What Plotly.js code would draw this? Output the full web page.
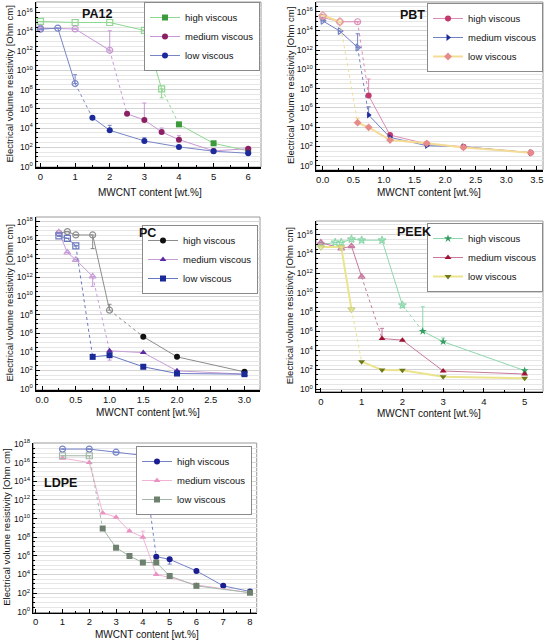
<!DOCTYPE html>
<html><head><meta charset="utf-8">
<script src="https://cdn.plot.ly/plotly-3.0.1.min.js"></script>
<style>html,body{margin:0;padding:0;background:#fff}#chart{width:545px;height:642px}</style>
</head><body><div id="chart"></div>
<script>
// ---------- DATA ----------
const seriesNames = ['high viscous', 'medium viscous', 'low viscous'];
const xTitle = 'MWCNT content [wt.%]';
const yTitle = 'Electrical volume resistivity [Ohm cm]';

// PA12
const pa12_high_x = [0, 1, 2, 3, 3.5, 4, 5, 6];
const pa12_high_y = [1.2e15, 9.3e14, 9.3e14, 1.4e14, 1.2e8, 2.4e4, 2.6e2, 42];
const pa12_high_err = [null, null, null, null, 1.4e7, null, null, null];
const pa12_med_x = [0, 1, 2, 2.5, 3, 3.5, 4, 5, 6];
const pa12_med_y = [2.4e14, 2.0e14, 1.2e12, 3.0e5, 6.8e4, 3.9e3, 6.2e2, 42, 72];
const pa12_med_err = [null, null, 1.3e14, null, 4e6, 1e4, 1.6e3, null, null];
const pa12_low_x = [0, 0.5, 1, 1.5, 2, 3, 4, 5, 6];
const pa12_low_y = [1.9e14, 2.4e14, 4.2e8, 1.2e5, 5.8e3, 4.6e2, 1.1e2, 39, 24];
const pa12_low_err = [null, null, 3.5e9, null, 1.9e4, 1e3, null, null, null];

// PBT
const pbt_x = [0, 0.28, 0.57, 0.75, 1.1, 1.7, 2.3, 3.4];
const pbt_high_y = [2.5e15, 8.9e14, 8.9e14, 1.9e7, 1.5e3, 1.8e2, 93, 22];
const pbt_high_err = [null, null, null, 1e9, null, null, null, null];
const pbt_med_y = [1.1e15, 9.5e13, 1.9e12, 1.8e5, 8.7e2, 1.2e2, 93, 22];
const pbt_med_err = [null, null, 5e13, 1.3e6, null, null, null, null];
const pbt_low_y = [4.0e15, 8.9e14, 2.9e4, 9.5e3, 4.6e2, 2.1e2, 79, 22];
const pbt_low_err = [null, null, 8e4, null, null, null, null, null];

// PC
const pc_x = [0.25, 0.375, 0.5, 0.75, 1, 1.5, 2, 3];
const pc_high_y = [5.6e16, 8.5e16, 3.7e16, 3.7e16, 3.0e8, 4.3e5, 2.9e3, 71];
const pc_high_err = [null, null, null, 1.3e15, 1.3e9, null, null, null];
const pc_med_y = [7.2e16, 4.8e14, 7.9e13, 1.3e12, 1.3e4, 8.3e3, 91, 40];
const pc_med_err = [null, null, null, 1.1e11, 1.3e3, null, null, null];
const pc_low_y = [2.9e16, 1.6e16, 2.5e15, 2.9e3, 4.4e3, 2.5e2, 47, 40];
const pc_low_err = [null, null, null, null, null, null, null, null];

// PEEK
const peek_high_x = [0, 0.35, 0.5, 0.75, 1, 1.5, 2, 2.5, 3, 5];
const peek_high_y = [9.3e14, 1.5e15, 1.5e15, 3.3e15, 2.6e15, 2.6e15, 5.1e8, 1.0e6, 8.3e4, 85];
const peek_high_err = [null, null, null, null, null, null, null, 3.4e8, 2e5, null];
const peek_x = [0, 0.5, 0.75, 1, 1.5, 2, 3, 5];
const peek_med_y = [1.5e15, 3.6e14, 6.3e14, 4.3e11, 1.8e5, 1.2e5, 78, 38];
const peek_med_err = [null, null, null, null, 2e6, null, null, null];
const peek_low_y = [5.0e14, 5.0e14, 1.8e8, 7.2e2, 1.0e2, 91, 20, 14];
const peek_low_err = [null, null, null, null, null, null, null, null];

// LDPE
const ldpe_high_x = [1, 2, 3, 4, 4.5, 5, 6, 7, 8];
const ldpe_high_y = [2.8e17, 2.8e17, 1.3e17, 5.8e16, 8.1e5, 4.2e5, 2.4e4, 6.0e2, 1.5e2];
const ldpe_high_err = [null, null, null, null, null, 1.3e5, null, null, null];
const ldpe_x = [1, 2, 2.5, 3, 3.5, 4, 4.5, 5, 6, 8];
const ldpe_med_y = [3.0e16, 1.0e16, 4.0e10, 1.4e10, 4.5e8, 1.0e8, 1.0e4, 4.7e3, 7.6e2, 1.1e2];
const ldpe_med_err = [null, null, null, null, null, 4.5e8, null, null, null, null];
const ldpe_low_y = [5.4e16, 5.4e16, 8.5e8, 7.4e6, 9.5e5, 1.9e5, 1.9e5, 6.9e3, 6.0e2, 1.1e2];
const ldpe_low_err = [null, null, null, null, null, null, null, null, null, null];

// tick labels (decade exponents)
const yTickExp16 = [0, 2, 4, 6, 8, 10, 12, 14, 16];
const yTickExp18 = [0, 2, 4, 6, 8, 10, 12, 14, 16, 18];

// ---------- BUILD ----------
const FONT = 'Liberation Sans, Arial, sans-serif';
const W = 545, H = 642;
const traces = [];

function errArrays(y, err) {
  const plus = [], minus = [];
  y.forEach((v, i) => {
    const e = err ? err[i] : null;
    plus.push(e != null && e > v ? e - v : 0);
    minus.push(e != null && e < v ? v - e : 0);
  });
  return {plus, minus};
}

function addSeries(s) {
  const n = s.nOpen;
  const common = {xaxis: s.xa, yaxis: s.ya, legend: s.legend, cliponaxis: false};
  const e = errArrays(s.y, s.err);
  const errObj = (a, b) => ({type: 'data', symmetric: false, array: e.plus.slice(a, b),
    arrayminus: e.minus.slice(a, b), color: s.lineColor, thickness: 1, width: 2});
  if (n > 0) {
    traces.push(Object.assign({}, common, {
      x: s.x.slice(0, n), y: s.y.slice(0, n), mode: 'lines+markers', showlegend: false,
      line: {color: s.lineColor, width: s.lw || 1},
      marker: {symbol: s.symbol + '-open', size: s.size || 6, color: s.openColor || s.lineColor, line: {width: 1.2}},
      error_y: errObj(0, n), hoverinfo: 'skip'
    }));
    traces.push(Object.assign({}, common, {
      x: s.x.slice(n - 1, n + 1), y: s.y.slice(n - 1, n + 1), mode: 'lines', showlegend: false,
      line: {color: s.lineColor, width: 1, dash: 'dot'}, hoverinfo: 'skip'
    }));
  }
  traces.push(Object.assign({}, common, {
    x: s.x.slice(n), y: s.y.slice(n), mode: 'lines+markers', name: s.name, showlegend: true,
    line: {color: s.lineColor, width: s.lw || 1},
    marker: {symbol: s.symbol, size: s.size || 6, color: s.markerColor, line: {width: 0}},
    error_y: errObj(n, s.x.length)
  }));
}

const panels = [
  {k: '', px: [36, 261], py: [2, 167], xr: [-0.13, 6.37], yr: [-0.05, 17.1], dt: 1, mdt: 0.5, fmt: '', ticks: yTickExp16,
   title: 'PA12', tx: 97, ty: 14, lg: 'legend', lgx: 260, lgy: 2, ytx: 9, xtx: 150, xty: 192,
   series: [
     {x: pa12_high_x, y: pa12_high_y, err: pa12_high_err, nOpen: 5, symbol: 'square', lineColor: '#8fd88f', markerColor: '#3c9a3c'},
     {x: pa12_med_x, y: pa12_med_y, err: pa12_med_err, nOpen: 3, symbol: 'circle', lineColor: '#c896d6', markerColor: '#8a1f62'},
     {x: pa12_low_x, y: pa12_low_y, err: pa12_low_err, nOpen: 3, symbol: 'circle', lineColor: '#7886c6', markerColor: '#1c2a9c'}]},
  {k: '2', px: [316, 543], py: [2, 170], xr: [-0.11, 3.6], yr: [-0.45, 17.0], dt: 0.5, mdt: 0.25, fmt: '.1f', ticks: yTickExp16,
   title: 'PBT', tx: 412, ty: 15, lg: 'legend2', lgx: 543, lgy: 3, ytx: 290, xtx: 429, xty: 192,
   series: [
     {x: pbt_x, y: pbt_high_y, err: pbt_high_err, nOpen: 3, symbol: 'circle', lineColor: '#dc8cb6', markerColor: '#c23a68'},
     {x: pbt_x, y: pbt_med_y, err: pbt_med_err, nOpen: 3, symbol: 'triangle-right', lineColor: '#7282c4', markerColor: '#1c2a9c'},
     {x: pbt_x, y: pbt_low_y, err: pbt_low_err, nOpen: 2, symbol: 'diamond', lineColor: '#f4dc94', markerColor: '#e68a8a', openColor: '#e6a0a0', lw: 2}]},
  {k: '3', px: [36, 260], py: [217, 390], xr: [-0.09, 3.23], yr: [-0.1, 18.5], dt: 0.5, mdt: 0.25, fmt: '.1f', ticks: yTickExp18,
   title: 'PC', tx: 147, ty: 233, lg: 'legend3', lgx: 258, lgy: 225, ytx: 9, xtx: 148, xty: 412.5,
   series: [
     {x: pc_x, y: pc_high_y, err: pc_high_err, nOpen: 5, symbol: 'circle', lineColor: '#8c8c8c', markerColor: '#111111'},
     {x: pc_x, y: pc_med_y, err: pc_med_err, nOpen: 4, symbol: 'triangle-up', lineColor: '#c89cd8', markerColor: '#5a2aa2'},
     {x: pc_x, y: pc_low_y, err: pc_low_err, nOpen: 3, symbol: 'square', lineColor: '#6878c0', markerColor: '#1a2a98'}]},
  {k: '4', px: [316, 543], py: [221, 391.7], xr: [-0.12, 5.45], yr: [-0.25, 17.4], dt: 1, mdt: 0.5, fmt: '', ticks: yTickExp16,
   title: 'PEEK', tx: 414, ty: 232, lg: 'legend4', lgx: 543, lgy: 223, ytx: 289, xtx: 429, xty: 413,
   series: [
     {x: peek_high_x, y: peek_high_y, err: peek_high_err, nOpen: 7, symbol: 'star', lineColor: '#8ed8ac', markerColor: '#2f9e5e'},
     {x: peek_x, y: peek_med_y, err: peek_med_err, nOpen: 4, symbol: 'triangle-up', lineColor: '#c8789e', markerColor: '#a01030'},
     {x: peek_x, y: peek_low_y, err: peek_low_err, nOpen: 3, symbol: 'triangle-down', lineColor: '#ece48c', markerColor: '#6e7a18', openColor: '#c8d080', lw: 2}]},
  {k: '5', px: [33.3, 256.7], py: [443, 612.5], xr: [-0.09, 8.25], yr: [-0.08, 18.1], dt: 1, mdt: 0.5, fmt: '', ticks: yTickExp18,
   title: 'LDPE', tx: 60, ty: 483, lg: 'legend5', lgx: 252, lgy: 446, ytx: 7, xtx: 147, xty: 634,
   series: [
     {x: ldpe_high_x, y: ldpe_high_y, err: ldpe_high_err, nOpen: 4, symbol: 'circle', lineColor: '#7482c8', markerColor: '#1a1c92'},
     {x: ldpe_x, y: ldpe_med_y, err: ldpe_med_err, nOpen: 0, symbol: 'triangle-up', lineColor: '#f2b2d6', markerColor: '#ea92c2'},
     {x: ldpe_x, y: ldpe_low_y, err: ldpe_low_err, nOpen: 2, symbol: 'square', lineColor: '#a2b8a8', markerColor: '#6e806e'}]}
];

const layout = {
  width: W, height: H, margin: {l: 0, r: 0, t: 0, b: 0},
  paper_bgcolor: '#fff', plot_bgcolor: '#fff', showlegend: true,
  font: {family: FONT, color: '#111', size: 9},
  annotations: [], shapes: []
};

panels.forEach(p => {
  const xa = 'x' + p.k, ya = 'y' + p.k;
  const xKey = 'xaxis' + p.k, yKey = 'yaxis' + p.k;
  layout[xKey] = {
    domain: [p.px[0] / W, p.px[1] / W], anchor: ya, range: p.xr, dtick: p.dt, tick0: 0,
    tickformat: p.fmt, showgrid: false, zeroline: false, showline: true, linecolor: '#000', linewidth: 1.5,
    ticks: 'inside', ticklen: 4, tickcolor: '#000', tickfont: {size: 9.5, family: FONT},
    minor: {dtick: p.mdt, tick0: 0, ticks: 'inside', ticklen: 2, tickcolor: '#000', showgrid: false},
    fixedrange: true
  };
  const minorVals = [];
  for (let k = 0; k <= Math.floor(p.yr[1] * 2); k++) minorVals.push(Math.pow(10, k / 2));
  layout[yKey] = {
    domain: [1 - p.py[1] / H, 1 - p.py[0] / H], anchor: xa, type: 'log', range: p.yr,
    tickmode: 'array', tickvals: p.ticks.map(e => Math.pow(10, e)),
    ticktext: p.ticks.map(e => '10<sup>' + e + '</sup>'),
    showgrid: true, gridcolor: '#d4d4d4', gridwidth: 1,
    zeroline: false, showline: true, linecolor: '#000', linewidth: 1.5,
    ticks: 'inside', ticklen: 4, tickcolor: '#000', tickfont: {size: 8.5, family: FONT},
    minor: {tickmode: 'array', tickvals: minorVals, ticks: 'inside', ticklen: 2, tickcolor: '#000',
            showgrid: true, gridcolor: '#e6e6e6', gridwidth: 1},
    fixedrange: true
  };
  layout[p.lg] = {
    x: p.lgx / W, y: 1 - p.lgy / H, xanchor: 'right', yanchor: 'top',
    bgcolor: '#fff', bordercolor: '#8a8a8a', borderwidth: 1,
    font: {size: 9.5, family: FONT, color: '#111'}, itemwidth: 30, tracegroupgap: 0
  };
  layout.shapes.push({type: 'rect', xref: xa + ' domain', yref: ya + ' domain', x0: 0, x1: 1, y0: 0, y1: 1,
    line: {color: '#9a9a9a', width: 1}, layer: 'below'});
  layout.annotations.push(
    {text: '<b>' + p.title + '</b>', xref: 'paper', yref: 'paper', x: p.tx / W, y: 1 - p.ty / H,
     showarrow: false, font: {size: 12.5, family: FONT, color: '#111'}, xanchor: 'center', yanchor: 'middle'},
    {text: xTitle, xref: 'paper', yref: 'paper', x: p.xtx / W, y: 1 - p.xty / H,
     showarrow: false, font: {size: 10, family: FONT, color: '#111'}, xanchor: 'center', yanchor: 'middle'},
    {text: yTitle, xref: 'paper', yref: 'paper', x: p.ytx / W, y: 1 - ((p.py[0] + p.py[1]) / 2) / H,
     textangle: -90, showarrow: false, font: {size: 9.5, family: FONT, color: '#111'}, xanchor: 'center', yanchor: 'middle'}
  );
  p.series.forEach((s, i) => addSeries(Object.assign({xa: xa, ya: ya, legend: p.lg, name: seriesNames[i]}, s)));
});

Plotly.newPlot('chart', traces, layout, {staticPlot: true, displayModeBar: false});
</script></body></html>
